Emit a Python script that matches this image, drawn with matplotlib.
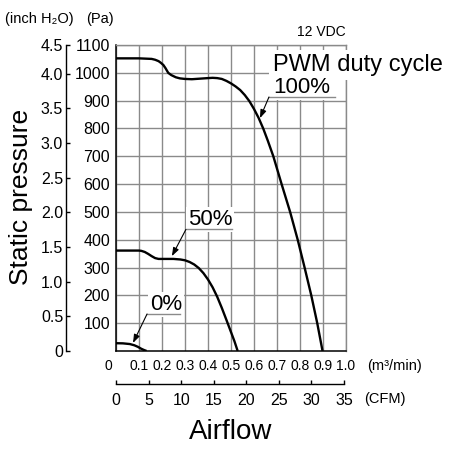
"""Fan P-Q curves at three PWM duty cycles, 12 VDC."""
import matplotlib
matplotlib.use("Agg")
import matplotlib.pyplot as plt
import matplotlib.transforms as mtransforms

# airflow (m3/min) / static pressure (Pa)
flow_100 = [0.0, 0.10, 0.155, 0.17, 0.185, 0.195, 0.206, 0.215, 0.227, 0.24, 0.26,
            0.278, 0.30, 0.33, 0.365, 0.40, 0.42, 0.44, 0.46, 0.48, 0.50, 0.52,
            0.54, 0.56, 0.58, 0.60, 0.62, 0.64, 0.66, 0.684, 0.72, 0.757, 0.79,
            0.82, 0.849, 0.875, 0.898]
pa_100 = [1052, 1052, 1050, 1047, 1042, 1036, 1028, 1017, 1000, 992, 984,
          980, 978, 977, 979, 981, 982, 981, 978, 971, 962, 951,
          938, 920, 898, 870, 838, 800, 756, 700, 600, 500, 400,
          300, 200, 100, 0]

flow_50 = [0.0, 0.10, 0.11, 0.125, 0.14, 0.155, 0.17, 0.185, 0.25, 0.28, 0.30,
           0.32, 0.34, 0.36, 0.38, 0.40, 0.42, 0.44, 0.46, 0.48, 0.50, 0.515, 0.529]
pa_50 = [361, 361, 360, 356, 349, 341, 334, 331, 331, 329, 326,
         320, 311, 298, 280, 257, 229, 195, 155, 112, 68, 35, 0]

flow_0 = [0.0, 0.03, 0.06, 0.08, 0.095, 0.11, 0.122, 0.133]
pa_0 = [28, 27.5, 25, 20.5, 15, 8, 3.5, 0]

flow_ticks = [0.0, 0.1, 0.2, 0.3, 0.4, 0.5, 0.6, 0.7, 0.8, 0.9, 1.0]
flow_labels = ["0", "0.1", "0.2", "0.3", "0.4", "0.5", "0.6", "0.7", "0.8", "0.9", "1.0"]
pa_ticks = [100, 200, 300, 400, 500, 600, 700, 800, 900, 1000, 1100]
inh2o_ticks = [0, 0.5, 1.0, 1.5, 2.0, 2.5, 3.0, 3.5, 4.0, 4.5]
inh2o_labels = ["0", "0.5", "1.0", "1.5", "2.0", "2.5", "3.0", "3.5", "4.0", "4.5"]
cfm_ticks = [0, 5, 10, 15, 20, 25, 30, 35]

PA_PER_INH2O = 249.09
CFM_PER_M3MIN = 35.3147

W, H = 451, 450
GRID = "#8a8a8a"

plt.rcParams["font.family"] = ["Liberation Sans", "DejaVu Sans"]


def fx(px):
    return px / W


def fy(py):
    return 1 - py / H


fig = plt.figure(figsize=(W / 100, H / 100), dpi=100)
pos = [fx(116), fy(351), fx(346) - fx(116), fy(45) - fy(351)]
ax = fig.add_axes(pos)
ax.set_xlim(0, 1.0)
ax.set_ylim(0, 1100)

ax.set_xticks(flow_ticks)
ax.set_xticklabels(flow_labels)
ax.set_yticks(pa_ticks)
ax.grid(True, color=GRID, lw=1.0, zorder=0)
ax.set_axisbelow(True)
ax.tick_params(axis="x", length=0, pad=6.0, labelsize=10)
ax.tick_params(axis="y", length=0, pad=4.3, labelsize=11.5)
for s in ("left", "bottom"):
    ax.spines[s].set_color("black")
    ax.spines[s].set_linewidth(1.1)
for s in ("top", "right"):
    ax.spines[s].set_color(GRID)
    ax.spines[s].set_linewidth(1.0)

for fl, pa in ((flow_100, pa_100), (flow_50, pa_50), (flow_0, pa_0)):
    ax.plot(fl, pa, color="black", lw=1.7, zorder=3, solid_capstyle="butt",
            solid_joinstyle="round")

# shift the "0" flow label left, as drawn
lbl = ax.xaxis.get_major_ticks()[0].label1
lbl.set_transform(lbl.get_transform()
                  + mtransforms.ScaledTranslation(-8 / 100, 0, fig.dpi_scale_trans))

# inch H2O scale, outboard on the left
ax2 = fig.add_axes(pos)
ax2.patch.set_visible(False)
for s in ("top", "right", "bottom"):
    ax2.spines[s].set_visible(False)
ax2.spines["left"].set_position(("outward", 50.3 * 0.72))
ax2.spines["left"].set_linewidth(1.0)
ax2.set_ylim(0, 1100)
ax2.set_xticks([])
ax2.set_yticks([min(v * PA_PER_INH2O, 1100) for v in inh2o_ticks])
ax2.set_yticklabels(inh2o_labels)
ax2.tick_params(axis="y", direction="in", length=3, width=1.0, pad=1.8, labelsize=11.5)

# CFM scale under the m3/min scale
ax3 = fig.add_axes([pos[0], fy(384), pos[2], 1e-6])
ax3.patch.set_visible(False)
for s in ("top", "right", "left"):
    ax3.spines[s].set_visible(False)
ax3.spines["bottom"].set_bounds(0, 35)
ax3.spines["bottom"].set_linewidth(1.0)
ax3.set_xlim(0, 1.0 * CFM_PER_M3MIN)
ax3.set_yticks([])
ax3.set_xticks(cfm_ticks)
ax3.tick_params(axis="x", direction="in", length=3, width=1.0, pad=6.5, labelsize=11.5)

# curve labels with leaders
ax.text(0.683, 1006, "PWM duty cycle", fontsize=17, va="baseline", ha="left",
        bbox=dict(facecolor="white", edgecolor="none", pad=3), zorder=4, clip_on=False)
labels = [
    ("100%", (0.683, 927), (0.665, 0.952, 913), (0.626, 837)),
    ("50%", (0.313, 453), (0.304, 0.503, 437), (0.243, 341)),
    ("0%", (0.148, 147), (0.135, 0.278, 133), (0.074, 29)),
]
box = dict(facecolor="white", edgecolor="none", pad=1.5)
for text, (tx, ty), (lx0, lx1, ly), tip in labels:
    ax.text(tx, ty, text, fontsize=16, va="baseline", ha="left",
            bbox=box, zorder=4.5, clip_on=False)
    ax.plot([lx0, lx1], [ly, ly], color=GRID, lw=1.0, zorder=5, clip_on=False)
    ax.annotate("", xy=tip, xytext=(lx0, ly),
                arrowprops=dict(arrowstyle="-|>,head_length=0.5,head_width=0.18",
                                color="black", lw=0.8, shrinkA=0, shrinkB=0),
                zorder=5)

# unit and axis titles
fig.text(fx(5), fy(19), "(inch H\u2082O)", fontsize=10.5, va="center", ha="left")
fig.text(fx(86), fy(19), "(Pa)", fontsize=10.5, va="center", ha="left")
fig.text(fx(346), fy(32), "12 VDC", fontsize=10, va="center", ha="right")
fig.text(fx(367), fy(366), "(m\u00b3/min)", fontsize=10.5, va="center", ha="left")
fig.text(fx(364), fy(399), "(CFM)", fontsize=10.5, va="center", ha="left")
fig.text(fx(231), fy(432), "Airflow", fontsize=20, va="center", ha="center")
fig.text(fx(21), fy(197), "Static pressure", fontsize=19, va="center", ha="center",
         rotation=90)

fig.savefig("out.png", dpi=100)
